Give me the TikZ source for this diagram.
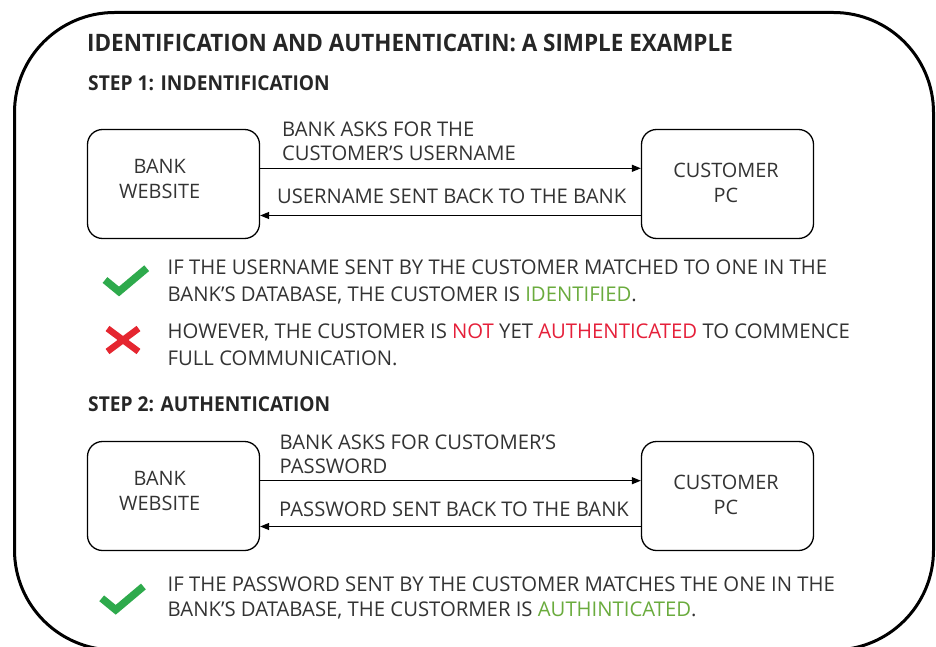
\documentclass[tikz,border=0pt]{standalone}
\usepackage{fontspec}
\setmainfont{Open Sans}
\usepackage{xcolor}
\usetikzlibrary{arrows.meta}
\definecolor{inkgray}{HTML}{333333}
\definecolor{okgreen}{HTML}{6AAB3D}
\definecolor{badred}{HTML}{E5203A}
\definecolor{tickgreen}{HTML}{2EAA4C}
\definecolor{crossred}{HTML}{E52630}

\begin{document}
\begin{tikzpicture}[x=1pt, y=-1pt,
    frame/.style={line width=3pt, rounded corners=100pt},
    box/.style={draw, line width=1.3pt, rounded corners=15pt, minimum width=172pt, minimum height=109pt, inner sep=0pt},
    boxtxt/.style={anchor=north, align=center, inner sep=0pt, text=inkgray, font=\fontsize{19.9}{25}\selectfont},
    msg/.style={line width=1.2pt, -{Triangle[length=9pt,width=7pt]}},
    msgtxt/.style={anchor=north west, align=left, inner sep=0pt, text=inkgray, font=\fontsize{20.2}{23.5}\selectfont},
    note/.style={anchor=north west, align=left, inner sep=0pt, text=inkgray, font=\fontsize{20.3}{26.5}\selectfont},
    head/.style={anchor=north west, inner sep=0pt, text=black!85, font=\bfseries\fontsize{20.5}{25}\selectfont\addfontfeature{FakeStretch=0.935}},
    tickline/.style={draw=tickgreen, line width=7.5pt, line join=miter},
    crossline/.style={draw=crossred, line width=6.5pt},
  ]
  %% 定义对勾命令
  \newcommand{\tickmk}[2]{
    \draw[tickline] (#1,#2) -- ++(14,11.5) -- ++(27.7,-23.3);
  }
  %% 定义叉号命令
  \newcommand{\crossmk}[2]{
    \draw[crossline] (#1-15.5,#2-11.5) -- (#1+15.5,#2+11.5);
    \draw[crossline] (#1+15.5,#2-11.5) -- (#1-15.5,#2+11.5);
  }
  %% 一些宏定义
  \def\gap{312}

  \useasboundingbox (0,0) rectangle (936,647);
  %% 外框
  \draw[frame] (14.5,12.5) rectangle (933.5,650);

  %% 标题
  \node[head, font=\bfseries\fontsize{24}{30}\selectfont\addfontfeature{FakeStretch=0.935}] (title) at (87,34)
    {IDENTIFICATION AND AUTHENTICATIN: A SIMPLE EXAMPLE};
  \node[head] (stepA) at (88,75) {STEP 1: INDENTIFICATION};
  \node[head] (stepB) at (88,396.7) {STEP 2: AUTHENTICATION};

  %% 第一步
  \node[box] (bankA) at (173.5,184) {};
  \node[box] (pcA) at (727.5,184) {};
  \node[boxtxt] (bankAtxt) at (159.7,159.3) {BANK\\WEBSITE};
  \node[boxtxt] (pcAtxt) at (726,163.3) {CUSTOMER\\PC};
  \draw[msg] ([yshift=15.7pt]bankA.east) -- ([yshift=15.7pt]pcA.west);
  \draw[msg] ([yshift=-31.5pt]pcA.west) -- ([yshift=-31.5pt]bankA.east);
  \node[msgtxt] (askA) at (282,121.7) {BANK ASKS FOR THE\\CUSTOMER’S USERNAME};
  \node[msgtxt] (backA) at (277,189) {USERNAME SENT BACK TO THE BANK};

  \tickmk{105}{280}
  \node[note] (noteA) at (167.5,260)
    {IF THE USERNAME SENT BY THE CUSTOMER MATCHED TO ONE IN THE\\
     BANK’S DATABASE, THE CUSTOMER IS {\color{okgreen}IDENTIFIED}.};
  \crossmk{123}{340}
  \node[note] (noteB) at (167.5,324)
    {HOWEVER, THE CUSTOMER IS {\color{badred}NOT} YET {\color{badred}AUTHENTICATED} TO COMMENCE\\
     FULL COMMUNICATION.};

  %% 第二步
  \node[box] (bankB) at (173.5,184+\gap) {};
  \node[box] (pcB) at (727.5,184+\gap) {};
  \node[boxtxt] (bankBtxt) at (159.7,159.3+\gap) {BANK\\WEBSITE};
  \node[boxtxt] (pcBtxt) at (726,163.3+\gap) {CUSTOMER\\PC};
  \draw[msg] ([yshift=15.3pt]bankB.east) -- ([yshift=15.3pt]pcB.west);
  \draw[msg] ([yshift=-30.5pt]pcB.west) -- ([yshift=-30.5pt]bankB.east);
  \node[msgtxt] (askB) at (279.5,435) {BANK ASKS FOR CUSTOMER’S\\PASSWORD};
  \node[msgtxt] (backB) at (279,501.7) {PASSWORD SENT BACK TO THE BANK};

  \tickmk{101.7}{598.3}
  \node[note, font=\fontsize{20.3}{25}\selectfont] (noteC) at (167.5,576.7)
    {IF THE PASSWORD SENT BY THE CUSTOMER MATCHES THE ONE IN THE\\
     BANK’S DATABASE, THE CUSTORMER IS {\color{okgreen}AUTHINTICATED}.};
\end{tikzpicture}
\end{document}
